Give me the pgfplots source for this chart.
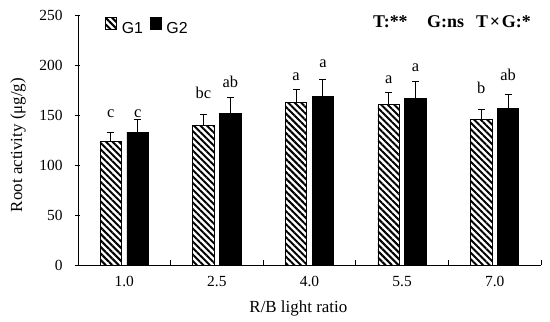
\documentclass[border=0pt]{standalone}
\usepackage{pgfplots}
\pgfplotsset{compat=1.18}
\usepackage{pgfplotstable}
\usetikzlibrary{patterns.meta}
\usepackage{fontspec}
\setmainfont{Liberation Serif}
\newfontfamily\arial{Liberation Sans}

\pgfplotstableread{
x g1 e1 g2 e2
0 123.7 9 133 13
1 140 11 151.7 16.3
2 163 13 169 17
3 161 12 167 17
4 146 10 157 14
}\data

\begin{document}
\begin{tikzpicture}
\begin{axis}[
  ybar,
  scale only axis, width=463bp, height=250bp,
  xmin=-0.5, xmax=4.5, ymin=0, ymax=250,
  axis lines=left,
  x axis line style={-, line width=0.9pt},
  y axis line style={-, line width=0.9pt},
  xtick={0,...,4}, xticklabels={1.0,2.5,4.0,5.5,7.0},
  minor xtick={0.5,1.5,2.5,3.5,4.5},
  ytick={0,50,...,250},
  tick align=inside, major tick length=5bp, minor tick length=5bp,
  major x tick style={draw=none},
  minor x tick style={black, line width=0.8pt},
  y tick style={black, line width=0.8pt, xshift=-3bp},
  /pgf/number format/assume math mode=true,
  ticklabel style={font=\fontsize{15.5}{18}\selectfont},
  xticklabel style={yshift=-8bp},
  yticklabel style={xshift=-12bp},
  ylabel={Root activity (μg/g)},
  ylabel style={at={(axis description cs:-0.1296,0.48)}, anchor=center, font=\fontsize{17}{20}\selectfont},
  xlabel={R/B light ratio},
  xlabel style={at={(axis description cs:0.476,-0.188)}, anchor=base, font=\fontsize{17}{20}\selectfont},
  legend columns=2,
  legend style={draw=none, fill=none, inner sep=0pt, at={(axis description cs:0.0583,0.9908)}, anchor=north west,
    font=\arial\fontsize{16}{18}\selectfont,
    nodes={inner xsep=0pt, inner ysep=0pt},
    /tikz/every odd column/.append style={column sep=5bp},
    /tikz/every even column/.append style={column sep=6.7bp}},
  every axis plot post/.append style={
    legend image code/.code={\draw[##1,draw=black,line width=0.6pt] (0bp,0bp) rectangle (11bp,11.3bp);}},
  clip=false,
]
\addplot[draw=black, line width=0.8pt,
  pattern={Lines[angle=-45,distance=4.6bp,line width=2bp]},
  bar width=0.232, bar shift=-0.145,
  error bars/.cd, y dir=plus, y explicit,
  error bar style={line width=1pt, black},
  error mark options={black, mark size=3.5bp, line width=1pt, rotate=90}]
  table[x=x,y=g1,y error=e1]{\data};
\addlegendentry{G1}
\addplot[draw=black, fill=black, line width=0.8pt,
  bar width=0.232, bar shift=0.145,
  error bars/.cd, y dir=plus, y explicit,
  error bar style={line width=1pt, black},
  error mark options={black, mark size=3.5bp, line width=1pt, rotate=90}]
  table[x=x,y=g2,y error=e2]{\data};
\addlegendentry{G2}

\begin{scope}[every node/.style={anchor=base, font=\fontsize{16.5}{19}\selectfont, inner sep=0pt}]
\node at (axis cs:-0.145,148) {c};
\node at (axis cs:0.145,148) {c};
\node at (axis cs:0.855,167) {bc};
\node at (axis cs:1.145,178) {ab};
\node at (axis cs:1.855,185) {a};
\node at (axis cs:2.145,198) {a};
\node at (axis cs:2.855,182) {a};
\node at (axis cs:3.145,194) {a};
\node at (axis cs:3.855,172) {b};
\node at (axis cs:4.145,185) {ab};
\end{scope}
\begin{scope}[every node/.style={anchor=base west, font=\bfseries\fontsize{18}{21}\selectfont, inner sep=0pt}]
\node at (axis description cs:0.6371,0.952) {T:**};
\node at (axis description cs:0.7538,0.952) {G:ns};
\node at (axis description cs:0.8596,0.952) {T\hspace{0.1em}×\hspace{0.1em}G:*};
\end{scope}
\path (rel axis cs:0,0) ++(-78bp,-57bp) rectangle ++(550bp,322bp);
\end{axis}
\end{tikzpicture}
\end{document}
